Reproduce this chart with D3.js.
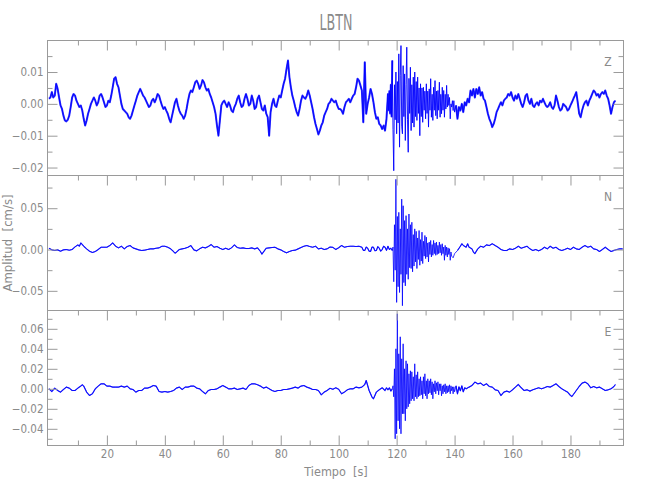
<!DOCTYPE html>
<html><head><meta charset="utf-8">
<script src="https://cdn.jsdelivr.net/npm/d3@7"></script>
<style>
body{margin:0;background:#fff}
text{font-family:"Liberation Sans Narrow","DejaVu Sans Condensed",sans-serif;fill:#8a8a8a}
</style>
</head><body>
<svg id="chart" width="650" height="500"></svg>
<script>
// ---------------- data ----------------
const title = "LBTN";
const xLabel = "Tiempo  [s]";
const yLabel = "Amplitud  [cm/s]";
const channelNames = ["Z", "N", "E"];

const xDomain = [-0.5, 198.3];
const xMajorTicks = [20, 40, 60, 80, 100, 120, 140, 160, 180];
const xMinorTicks = [10, 30, 50, 70, 90, 110, 130, 150, 170, 190];

const zDomain = [-0.0225, 0.0199];
const zMajorTicks = [-0.02, -0.01, 0, 0.01];
const zMinorTicks = [-0.015, -0.005, 0.005, 0.015];
const nDomain = [-0.0738, 0.0896];
const nMajorTicks = [-0.05, 0, 0.05];
const nMinorTicks = [-0.025, 0.025, 0.075];
const eDomain = [-0.0567, 0.0783];
const eMajorTicks = [-0.04, -0.02, 0, 0.02, 0.04, 0.06];
const eMinorTicks = [-0.05, -0.03, -0.01, 0.01, 0.03, 0.05, 0.07];

// strong-motion window (seconds), drawn with a finer pen
const burstWindow = [118.6, 140.2];

// Z channel, amplitudes in 1e-3 cm/s
// before the burst: every 0.5 s from t = 0
const zLeadStart = 0, zLeadStep = 0.5;
const zLead = [
1.6,2,3.7,2,2.6,6.3,4.7,2,-0.5,-1.6,-3.7,-5.2,-5.5,-5,-3.7,-1,2,3.1,2.6,1,
0,-1,-0.5,-2.1,-4.7,-6.8,-5.2,-3.1,-1.6,0,1,2,1,-0.5,0.5,2.6,3.1,2,0.5,-1,
-0.5,1,0.5,2.6,5.2,7.9,8.4,6.3,5.2,2.6,0,-1.6,-2.1,-2.6,-3.1,-4.2,-4.7,-3.7,-2.1,-0.5,
1,2.6,3.7,4.7,3.7,2.6,2,1,0,-1,-0.5,1,1.6,0.5,1.6,3.1,2.6,1,-0.5,-1.6,
-1,-2.1,-3.1,-4.7,-5.8,-3.7,-1.6,0.5,1.6,-0.5,-2.1,-3.1,-3.7,-4.7,-3.7,-1.6,1,3.1,4.2,3.7,
5.2,6.8,7.3,6.3,4.7,5.8,7.5,6.8,5.2,4.2,4.7,3.1,2,0.5,-1,-3.1,-6.8,-10,-5.2,-0.5,
0.5,1,0,-1,0.5,-0.5,-2.1,-2.6,-1,0,1.6,2.6,0.5,-1,-0.5,1.6,3.1,1.6,-0.5,0,
2.6,1,-1.6,-1,1.6,2.6,0.5,-1.6,-2.1,-0.5,-3.1,-4.2,-10,-2.6,0,1.6,-0.5,-1,1,2.6,
2,4.2,6.3,7.9,11,13.6,8.4,5.2,2.6,1,-1,-2.6,-3.7,-1.6,1,2.6,2,1.6,2.6,4.2,
2.6,0.5,-1.6,-4.2,-6.3,-7.9,-9.6,-8.4,-6.8,-5.8,-3.7,-2.6,-1.6,0,0.5,1.6,1,0.5,1,-0.5,
-1.6,-1.6,-2.1,-3.1,-1,0.5,1,1.6,0.5,1.6,2.6,3.1,5.2,7.9,7.3,5.8,4.2,-5.8,13.1,-3.1,
0,2,4.7,3.1,0.5,-2.6,-4.7,-4.2,-6.3,-6.8,-7.9,-6.8,-8.4,-4.7
];
// burst: [time s, amplitude]
const zBurst = [
[117,3.1],[117.25,-2],[117.5,4],[117.75,-3],[118,6],[118.25,-4],[118.5,13.6],[118.75,-8],[119,-21],[119.25,6],
[119.5,-5],[119.75,10],[120,-9.4],[120.25,7],[120.5,-6],[120.75,15.7],[121,-13.6],[121.25,9],[121.5,18.3],[121.75,-7],
[122,-9.4],[122.25,12],[122.5,-4],[122.75,9.4],[123,-11.5],[123.25,6],[123.5,17.8],[123.75,-5],[124,-15.2],[124.25,8],
[124.5,-3],[124.75,11.5],[125,-8.4],[125.25,6],[125.5,-6],[125.75,8.4],[126,-7.3],[126.25,10],[126.5,-4],[126.75,7],
[127,-5.2],[127.25,8.4],[127.5,-3],[127.75,5],[128,-10],[128.25,6.3],[128.5,-4],[128.75,5],[129,-5.8],[129.25,5.2],
[129.5,-2],[129.75,4],[130,-4.7],[130.25,6.3],[130.5,-3],[130.75,4],[131,-7.3],[131.25,4.7],[131.5,-2],[131.75,7.9],
[132,-4.2],[132.25,3],[132.5,-5.2],[132.75,5.2],[133,-2],[133.25,7.3],[133.5,-3.7],[133.75,4],[134,-4.7],[134.25,4.2],
[134.5,-2],[134.75,6.8],[135,-4.2],[135.25,3],[135.5,-3.1],[135.75,5.2],[136,-2],[136.25,4.2],[136.5,-4.2],[136.75,3],
[137,-1.6],[137.25,5.8],[137.5,-1],[137.75,3],[138,-0.5],[138.25,2],[138.5,-4.7],[138.75,0],[139,-1],[139.25,1],
[139.5,-2.1],[139.75,1],[140,-2.6]
];
// after the burst: every 0.5 s from t = 140.5
const zTrailStart = 140.5, zTrailStep = 0.5;
const zTrail = [
-0.5,-4.7,-1,-2.1,0,-2.6,0.5,-0.5,1.6,0.5,4.2,2.6,4.7,2,4.7,3.1,5.2,2.6,3.7,
1.6,1,-1,-3.1,-4.7,-5.8,-7.3,-6.3,-4.7,-2.6,-1.6,-0.5,0.5,-0.5,1,1.6,2,3.1,2.6,3.7,
2,1,2.6,1.6,3.1,1.6,0,-1,0.5,2.6,3.1,1,0,1.6,-0.5,-1,0,0.5,-0.5,1,
0.5,1.6,0.5,-0.5,-1,-0.5,0.5,-1,-1.6,-0.5,2.6,1,-1,-2.1,-1.6,0,-0.5,-1,-2.1,-1.6,
-0.5,0.5,1.6,2.6,3.7,0.5,-3.1,-4.2,-2.1,-0.5,0.5,1,-0.5,1,2,3.1,4.2,3.7,2.6,3.1,
2,3.1,3.7,3.1,4.2,2.6,1.6,-0.5,-3.1,-1,0.5,1
];

// N channel: [time s, amplitude 1e-3 cm/s]
const nSamples = [
[0,1.6],[1,-0.4],[2,-1.2],[3,-0.4],[4,-2],[5,-0.4],[6,0],[7,-0.8],[8,0],[9,3.2],[10,5.6],[10.5,4],[11,8],[12,4],
[13,0.8],[14,-2],[15,-3.6],[16,-2.4],[17,0],[18,2.8],[19,2.8],[20,2.8],[21,4.8],[22,8],[23,4],[24,2],[25,4],[26,0.8],
[27,3.6],[28,4.8],[29,2],[30,0.8],[31,-0.4],[32,-1.2],[33,-0.8],[34,0],[35,0.8],[36,0.8],[37,1.6],[38,2],[39,4],[40,4],
[41,2.8],[42,0.8],[43,-2.4],[43.5,-4.4],[44,-3.2],[45,0],[46,0.8],[47,1.6],[48,2.8],[49,4.8],[50,-0.4],[51,-1.6],[52,0.8],
[53,2.8],[54,2],[55,3.6],[56,6],[57,2.8],[58,3.6],[59,1.6],[60,0],[61,1.6],[62,0],[63,2],[64,5.6],[65,2.4],[66,1.6],
[67,2],[68,1.2],[69,1.2],[70,2],[71,0.8],[72,2],[73,-2.4],[73.5,-5.6],[74,-3.2],[75,1.6],[76,2],[77,2.4],[78,2.8],[79,0.8],
[80,-0.4],[81,-2.4],[82,-4],[83,-2.4],[84,-1.2],[85,-0.8],[86,0.8],[87,2.4],[88,4],[89,4.8],[90,3.6],[91,2.8],[92,4],
[93,0.8],[94,1.6],[95,0],[96,0.8],[97,3],[98,2.6],[99,0],[100,2.2],[101,4.8],[102,2.8],[103,3.6],[104,4],[105,4],
[106,3.6],[107,4],[108,2.8],[108.5,-1],[109,-1.2],[109.5,3],[110,1.6],[110.5,-2],[111,-2.4],[111.5,3],[112,2.8],[112.5,-1.5],
[113,-1.2],[113.5,3.5],[114,1.6],[114.5,-2],[115,0],[115.5,4],[116,2.8],[116.5,-1],[117,4],[117.5,0],[118,1.6],[118.5,-1.2],
[118.75,3],[119,-39],[119.25,30],[119.5,-25],[119.75,85],[120,-64],[120.25,40],[120.5,-45],[120.75,45],[121,-52],
[121.25,25],[121.5,-30],[121.75,61],[122,-68],[122.25,53],[122.5,-40],[122.75,35],[123,-44],[123.25,41],[123.5,-30],
[123.75,25],[124,-36],[124.25,43],[124.5,-22],[124.75,30],[125,-23],[125.25,33],[125.5,-27],[125.75,18],[126,-20],
[126.25,25],[126.5,-15],[126.75,22],[127,-23],[127.25,14],[127.5,-12],[127.75,23],[128,-19],[128.25,12],[128.5,-14],
[128.75,21],[129,-17],[129.25,10],[129.5,-8],[129.75,17],[130,-11],[130.25,15],[130.5,-9],[130.75,8],[131,-15],
[131.25,9],[131.5,-6],[131.75,11],[132,-9],[132.25,6],[132.5,-7],[132.75,11],[133,-5],[133.25,8],[133.5,-7],
[133.75,9],[134,-6],[134.25,5],[134.5,-5],[134.75,9],[135,-4],[135.25,6],[135.5,-7],[135.75,7],[136,-5],
[136.25,3],[136.5,-13],[136.75,5],[137,-7],[137.25,3],[137.5,-9],[137.75,2],[138,-6],[138.25,1],[138.5,-13],
[138.75,-3],[139,-8],[139.5,-10],[140,-5],
[141,-1.2],[142,4],
[142.5,7],[143,5],[144,2.8],[144.5,7],[145,2.8],[146,0.8],[146.5,-3],[147,-5],[148,0.8],[149,4],[150,2.8],[151,5.6],
[152,4.8],[153,7],[154,4.8],[155,2.8],[156,0],[157,-1.2],[158,-1.2],[159,0.8],[160,0],[161,1.6],[162,4],[163,1.6],
[164,2.8],[165,4],[166,0.8],[167,-1.2],[168,0],[169,-1.6],[170,0],[171,2.8],[172,0.8],[173,4],[174,1.6],[175,2.8],
[176,0],[177,-1.2],[178,0],[179,1.6],[180,0],[181,2.8],[182,0.8],[183,0],[184,2.8],[185,4.8],[186,2.8],[187,4],
[188,0.8],[189,0],[190,-2.4],[191,0],[192,2.8],[193,0],[194,-2.4],[195,-1.2],[196,0],[197,0.8],[198,0.8]
];

// E channel: [time s, amplitude 1e-3 cm/s]
const eSamples = [
[0,0],[1,-2.7],[2,0.7],[3,-1.7],[4,-3.3],[5,-0.7],[6,1.7],[7,0.7],[8,-1.7],[9,-1.7],[10,0.7],[11,2.7],[11.5,4],[12,2.7],
[13,-3.3],[13.5,-5],[14,-6.7],[15,-5],[16,0],[17,2.7],[18,5],[19,5],[20,2.7],[21,2.7],[22,1.7],[23,1.7],[24,1.7],[25,2.7],
[26,1.7],[27,2.7],[28,0],[29,-0.7],[30,-3.3],[31,-1.7],[32,-1.7],[33,0.7],[34,0.7],[35,1.7],[36,3.3],[37,2.7],[38,-2.7],
[39,-3.3],[40,-2.7],[41,-3.3],[42,-2.7],[43,-1.7],[44,0.7],[45,1.7],[46,-0.7],[47,1.7],[48,1.7],[49,2.7],[50,2.7],[51,0.7],
[52,0],[53,-2.7],[54,-5],[55,-1.7],[56,-0.7],[57,-0.7],[58,0],[59,1.7],[60,3.3],[61,1.7],[62,0],[63,0],[64,0.7],[65,-0.7],
[66,0],[67,0.7],[68,-0.7],[69,3.3],[70,5],[71,5],[72,4],[73,2.7],[74,0.7],[75,1.7],[76,0],[77,-1.7],[78,-2.7],[79,-1.7],
[80,-1.7],[81,-0.7],[82,-0.7],[83,0],[84,0.7],[85,1.7],[86,0.7],[87,2.7],[88,3.3],[89,1.7],[90,0.7],[91,-0.7],[92,-0.7],
[93,-1.7],[94,-6],[95,-3.3],[96,-1.7],[97,0.5],[98,-0.5],[99,1],[100,-0.5],[101,-5],[102,-3.3],[103,-1],[104,0],[105,0],
[106,1.7],[107,1],[108,1.7],[109,4.3],[109.5,8.3],[110,3.3],[110.5,-1.7],[111,-5],[111.5,-8.3],[112,-10],[112.5,-6.7],
[113,-3.3],[114,-1],[115,1],[116,-1.7],[116.5,1],[117,-1],[117.5,1],[118,-2.3],[118.5,0],
[118.75,3],[119,-8],[119.25,20],[119.5,-50],[119.75,40],[120,-45],[120.25,75],[120.5,-32],[120.75,35],[121,-40],
[121.25,52],[121.5,-45],[121.75,30],[122,-25],[122.25,45],[122.5,-25],[122.75,20],[123,-32],[123.25,28],[123.5,-20],
[123.75,25],[124,-18],[124.25,15],[124.5,-15],[124.75,18],[125,-12],[125.25,17],[125.5,-10],[125.75,12],[126,-12],
[126.25,25],[126.5,-8],[126.75,14],[127,-10],[127.25,17],[127.5,-8],[127.75,10],[128,-7],[128.25,12],[128.5,-6],
[128.75,8],[129,-10],[129.25,12],[129.5,-5],[129.75,15],[130,-7],[130.25,8],[130.5,-10],[130.75,10],[131,-5],
[131.25,8],[131.5,-4],[131.75,10],[132,-6],[132.25,7],[132.5,-10],[132.75,5],[133,-3],[133.25,8],[133.5,-5],
[133.75,6],[134,-2],[134.25,7],[134.5,-6],[134.75,5],[135,-2],[135.25,5],[135.5,-7],[135.75,3],[136,-5],
[136.25,4],[136.5,-3],[136.75,5],[137,-5],[137.25,3],[137.5,-4],[137.75,3],[138,-3],[138.25,4],[138.5,-5],
[138.75,3],[139,-2],[139.25,2],[139.5,-5],[139.75,2],[140,-3],[140.5,3],[141,-5],[141.5,2],[142,-2],[142.5,3],
[143,-3],[143.5,1],[144,0],
[145,1.7],[146,3.3],[147,6.7],[148,5],[149,5.7],
[150,3.3],[151,5],[152,2.3],[153,1.7],[154,-1],[155,-1.7],[156,-6.7],[157,-3.3],[158,-2.3],[159,-3.3],[160,-1],
[161,1.7],[162,4.3],[163,1],[164,-1.7],[165,-1],[166,-2.3],[167,-1],[168,0],[169,1],[170,0],[171,1],[172,2.3],
[173,1.7],[174,3.3],[175,5],[176,2.3],[177,0],[178,-1.7],[179,-3.3],[180,-6.7],[180.5,-7.7],[181,-5.7],[182,-1.7],
[183,2.3],[184,5.7],[185,6.7],[186,5],[187,1],[188,2.3],[189,1],[190,1.7],[191,0],[192,-1.7],[193,-1],[194,0],
[195,2.3],[195.5,4.3]
];

// ---------------- drawing ----------------
const svg = d3.select("#chart");
const left = 47.5, right = 623.5;
const panelTops = [40.5, 175.5, 310.5];
const panelH = 135;
const axisColor = "#9a9a9a";
const textColor = "#8a8a8a";
const traceColor = "#0000ff";

const x = d3.scaleLinear().domain(xDomain).range([left, right]);

const zSamples = [
  ...zLead.map((v, i) => [zLeadStart + i * zLeadStep, v]),
  ...zBurst,
  ...zTrail.map((v, i) => [zTrailStart + i * zTrailStep, v])
];

const panels = [
  {name: channelNames[0], domain: zDomain, major: zMajorTicks, minor: zMinorTicks,
   data: zSamples.map(d => [d[0], d[1] / 1000]), quietWidth: 2.0, burstWidth: 0.9},
  {name: channelNames[1], domain: nDomain, major: nMajorTicks, minor: nMinorTicks,
   data: nSamples.map(d => [d[0], d[1] / 1000]), quietWidth: 1.15, burstWidth: 0.8},
  {name: channelNames[2], domain: eDomain, major: eMajorTicks, minor: eMinorTicks,
   data: eSamples.map(d => [d[0], d[1] / 1000]), quietWidth: 1.2, burstWidth: 0.8}
];

const fmt = d3.format(".2f");
const styleAxis = sel => {
  sel.select(".domain").remove();
  sel.selectAll("line").attr("stroke", axisColor);
  sel.selectAll("text").attr("fill", textColor).style("font-size", "11.5px")
    .style("font-family", '"Liberation Sans Narrow","DejaVu Sans Condensed",sans-serif');
};

panels.forEach((p, i) => {
  const top = panelTops[i], bottom = top + panelH;
  const y = d3.scaleLinear().domain(p.domain).range([bottom, top]);
  const g = svg.append("g");

  const clipId = "clip" + i;
  svg.append("clipPath").attr("id", clipId).append("rect")
    .attr("x", left).attr("y", top).attr("width", right - left).attr("height", panelH);

  const tg = g.append("g").attr("clip-path", `url(#${clipId})`);
  const lineAll = d3.line().x(d => x(d[0])).y(d => y(d[1]));
  const lineQuiet = d3.line().defined(d => d[0] <= burstWindow[0] || d[0] >= burstWindow[1])
    .x(d => x(d[0])).y(d => y(d[1]));
  tg.append("path").datum(p.data).attr("d", lineAll)
    .attr("fill", "none").attr("stroke", traceColor)
    .attr("stroke-width", p.burstWidth).attr("stroke-linejoin", "round");
  tg.append("path").datum(p.data).attr("d", lineQuiet)
    .attr("fill", "none").attr("stroke", traceColor).attr("stroke-opacity", 0.8)
    .attr("stroke-width", p.quietWidth).attr("stroke-linejoin", "round");

  g.append("g").attr("transform", `translate(${left},0)`)
    .call(d3.axisLeft(y).tickValues(p.major).tickSize(-10).tickPadding(4).tickFormat(fmt)).call(styleAxis);
  g.append("g").attr("transform", `translate(${left},0)`)
    .call(d3.axisLeft(y).tickValues(p.minor).tickSize(-5).tickFormat("")).call(styleAxis);
  g.append("g").attr("transform", `translate(${right},0)`)
    .call(d3.axisRight(y).tickValues(p.major).tickSize(-10).tickFormat("")).call(styleAxis);
  g.append("g").attr("transform", `translate(${right},0)`)
    .call(d3.axisRight(y).tickValues(p.minor).tickSize(-5).tickFormat("")).call(styleAxis);

  g.append("g").attr("transform", `translate(0,${top})`)
    .call(d3.axisTop(x).tickValues(xMajorTicks).tickSize(-10).tickFormat("")).call(styleAxis);
  g.append("g").attr("transform", `translate(0,${top})`)
    .call(d3.axisTop(x).tickValues(xMinorTicks).tickSize(-5).tickFormat("")).call(styleAxis);

  if (i === panels.length - 1) {
    g.append("g").attr("transform", `translate(0,${bottom})`)
      .call(d3.axisBottom(x).tickValues(xMajorTicks).tickSize(-10).tickPadding(4).tickFormat(d3.format("d"))).call(styleAxis);
    g.append("g").attr("transform", `translate(0,${bottom})`)
      .call(d3.axisBottom(x).tickValues(xMinorTicks).tickSize(-5).tickFormat("")).call(styleAxis);
  }

  g.append("rect").attr("x", left).attr("y", top).attr("width", right - left).attr("height", panelH)
    .attr("fill", "none").attr("stroke", axisColor).attr("stroke-width", 1);

  g.append("text").attr("x", 608).attr("y", top + 25).attr("text-anchor", "middle")
    .attr("fill", textColor).style("font-size", "12px").text(p.name);
});

svg.append("text").attr("x", 336).attr("y", 30).attr("text-anchor", "middle")
  .attr("textLength", 33).attr("lengthAdjust", "spacingAndGlyphs")
  .attr("fill", textColor).style("font-size", "21px").text(title);
svg.append("text").attr("x", 336).attr("y", 476).attr("text-anchor", "middle")
  .attr("fill", textColor).style("font-size", "12.5px").style("white-space", "pre")
  .attr("xml:space", "preserve").text(xLabel);
svg.append("text").attr("transform", "translate(12,243) rotate(-90)").attr("text-anchor", "middle")
  .attr("fill", textColor).style("font-size", "13px").style("white-space", "pre")
  .attr("xml:space", "preserve").text(yLabel);
</script>
</body></html>
